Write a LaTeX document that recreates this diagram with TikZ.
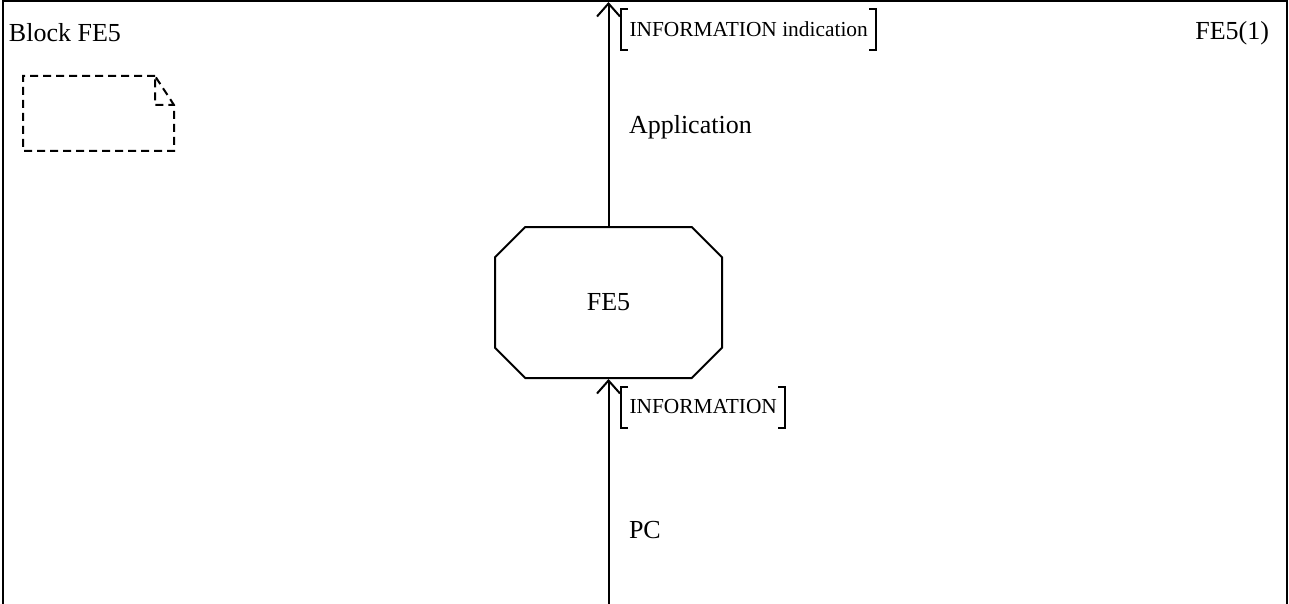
\documentclass[tikz,border=0pt]{standalone}
\usepackage{fontspec}
\setmainfont{Liberation Serif}
\usetikzlibrary{shapes}
\usetikzlibrary{positioning}
\usetikzlibrary{arrows.meta}

\tikzset{
  big/.style={font=\fontsize{26}{30}\selectfont, inner sep=0pt},
  small/.style={font=\fontsize{21.4}{25}\selectfont, inner ysep=0pt, inner xsep=7.5pt, minimum height=39pt},
  feblock/.style={chamfered rectangle, chamfered rectangle xsep=23pt, chamfered rectangle ysep=23pt, draw, minimum width=227pt, minimum height=151pt},
  notedash/.style={dash pattern=on 8pt off 5pt}
}

\begin{document}
\begin{tikzpicture}[x=1pt,y=-1pt,line width=2pt,>={Straight Barb[length=13pt,width=23pt]}]
\useasboundingbox (0,0) rectangle (1289,604);
\draw (3,604)--(3,1)--(1287,1)--(1287,604);

\node[feblock,big] (fe5) at (608.5,302.5) {FE5};
\coordinate (top) at (608.5,2);
\coordinate (bot) at (608.5,604);
\draw[->] (fe5.north)--(top);
\draw[->] (bot)--(fe5.south);

\node[small,anchor=west] (ind) at (621,29.5) {INFORMATION indication};
\draw ([xshift=7pt]ind.north west)--(ind.north west)--(ind.south west)--([xshift=7pt]ind.south west);
\draw ([xshift=-7pt]ind.north east)--(ind.north east)--(ind.south east)--([xshift=-7pt]ind.south east);

\node[small,anchor=west] (info) at (621,407) {INFORMATION};
\draw ([xshift=7pt]info.north west)--(info.north west)--(info.south west)--([xshift=7pt]info.south west);
\draw ([xshift=-7pt]info.north east)--(info.north east)--(info.south east)--([xshift=-7pt]info.south east);

\node[big,anchor=west] (app) at (628,127) {Application};
\node[big,anchor=west] (pc) at (628,530) {PC};
\node[big,anchor=west] (block) at (8,33) {Block FE5};
\node[big,anchor=east] (page) at (1270,33) {FE5(1)};

\draw[notedash] (155,76)--(23,76)--(23,151)--(174,151)--(174,105)--(155,76)--(155,105)--(174,105);

\end{tikzpicture}
\end{document}
